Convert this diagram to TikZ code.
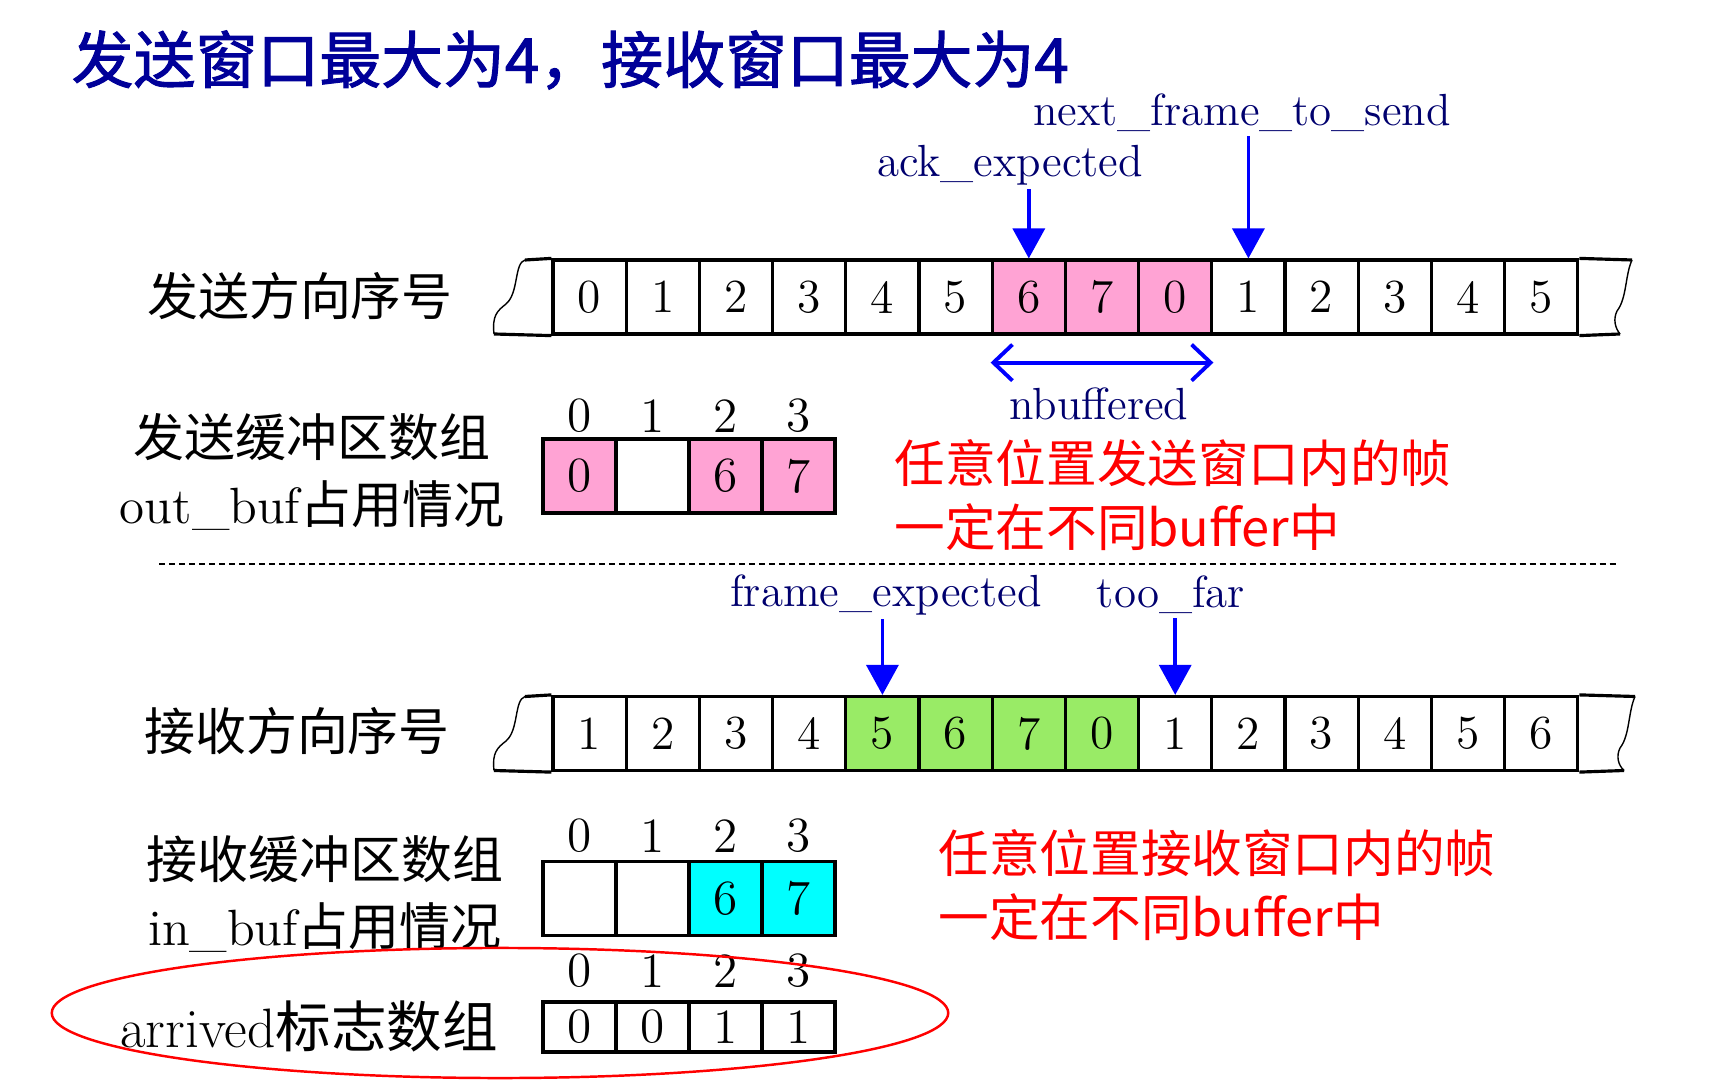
\documentclass[tikz,border=0pt]{standalone}
\usepackage{fontspec}
\newfontfamily\cjk{Noto Sans CJK SC}
\newfontfamily\cjkheavy[FakeBold=1.6]{Noto Sans CJK SC}
\usetikzlibrary{positioning, arrows.meta}

\definecolor{navytext}{RGB}{0,0,110}
\definecolor{titleblue}{RGB}{0,0,153}
\definecolor{winpink}{RGB}{255,163,212}
\definecolor{wingreen}{RGB}{153,235,102}
\definecolor{bufcyan}{RGB}{0,255,255}

\begin{document}
\begin{tikzpicture}[
    x=0.01cm, y=-0.01cm,
    cell/.style={draw, line width=0.9pt, minimum width=0.732cm, minimum height=0.74cm, inner sep=0pt, font=\fontsize{13.5}{15}\selectfont},
    buf/.style={draw, line width=1.1pt, minimum width=0.73cm, minimum height=0.74cm, inner sep=0pt, font=\fontsize{14}{16}\selectfont},
    flag/.style={buf, line width=0.9pt, minimum height=0.5cm},
    idx/.style={inner sep=1pt, font=\fontsize{14}{16}\selectfont},
    var/.style={text=navytext, inner sep=1pt, font=\fontsize{12.8}{15}\selectfont},
    ptr/.style={-{Triangle[length=0.3cm,width=0.32cm]}, blue, line width=1pt},
    span/.style={{Straight Barb[length=0.19cm,width=0.36cm]}-{Straight Barb[length=0.19cm,width=0.36cm]}, blue, line width=1.1pt},
    rowlabel/.style={font=\cjk\fontsize{14.5}{18.8}\selectfont, align=center},
    note/.style={text=red, font=\cjk\fontsize{14.4}{18.2}\selectfont, align=left, anchor=west},
    edge/.style={line width=0.9pt},
    wave/.style={line width=0.4pt}
]
    \useasboundingbox (0,0) rectangle (1722,1080);

    \node[font=\cjkheavy\fontsize{17.6}{20}\selectfont, text=titleblue, anchor=west, inner sep=0pt] (title) at (71,60) {发送窗口最大为4，接收窗口最大为4};

    % sending side: sequence numbers, window 6 7 0
    \node[rowlabel] (sendrow) at (300,296) {发送方向序号};
    \node[cell] (s0) at (589.6,297) {0};
    \node[cell] (s1) at (662.8,297) {1};
    \node[cell] (s2) at (736.0,297) {2};
    \node[cell] (s3) at (809.2,297) {3};
    \node[cell] (s4) at (882.4,297) {4};
    \node[cell] (s5) at (955.6,297) {5};
    \node[cell, fill=winpink] (s6) at (1028.8,297) {6};
    \node[cell, fill=winpink] (s7) at (1102.0,297) {7};
    \node[cell, fill=winpink] (s8) at (1175.2,297) {0};
    \node[cell] (s9) at (1248.4,297) {1};
    \node[cell] (s10) at (1321.6,297) {2};
    \node[cell] (s11) at (1394.8,297) {3};
    \node[cell] (s12) at (1468.0,297) {4};
    \node[cell] (s13) at (1541.2,297) {5};
    \draw[edge] (s0.north west) -- (525,260);
    \draw[wave] (525,260) .. controls (514,263) and (519,293) .. (506,304) .. controls (497,311) and (492,316) .. (494,334);
    \draw[edge] (494,334) -- (s0.south west);
    \draw[edge] (s13.north east) -- (1632,260);
    \draw[wave] (1632,260) .. controls (1625,275) and (1627,298) .. (1617,311) .. controls (1613,319) and (1615,328) .. (1620,334);
    \draw[edge] (1620,334) -- (s13.south east);

    \node[var] (ack) at (1010,165) {ack\_expected};
    \node[var] (next) at (1242,113) {next\_frame\_to\_send};
    \node[var] (nbuf) at (1099,404) {nbuffered};
    \draw[ptr] (ack.south -| s6.north) -- (s6.north);
    \draw[ptr] (next.south -| s9.north) -- (s9.north);
    \draw[span] ([yshift=-0.27cm]s6.south west) -- ([yshift=-0.27cm]s8.south east);

    % out_buf
    \node[rowlabel] (outlabel) at (312,472) {发送缓冲区数组\\{\rmfamily out\_buf}占用情况};
    \node[buf, fill=winpink] (o0) at (579.5,476) {0};
    \node[buf] (o1) at (652.5,476) {};
    \node[buf, fill=winpink] (o2) at (725.5,476) {6};
    \node[buf, fill=winpink] (o3) at (798.5,476) {7};
    \node[idx, above=0pt of o0] (oi0) {0};
    \node[idx, above=0pt of o1] (oi1) {1};
    \node[idx, above=0pt of o2] (oi2) {2};
    \node[idx, above=0pt of o3] (oi3) {3};
    \node[note] (sendnote) at (882,495) {任意位置发送窗口内的帧\\一定在不同buffer中};

    \draw[dash pattern=on 0.06cm off 0.04cm, line width=0.7pt] (159,564) -- (1618,564);

    % receiving side: sequence numbers, window 5 6 7 0
    \node[rowlabel] (recvrow) at (297,731) {接收方向序号};
    \node[cell] (r0) at (589.6,733.5) {1};
    \node[cell] (r1) at (662.8,733.5) {2};
    \node[cell] (r2) at (736.0,733.5) {3};
    \node[cell] (r3) at (809.2,733.5) {4};
    \node[cell, fill=wingreen] (r4) at (882.4,733.5) {5};
    \node[cell, fill=wingreen] (r5) at (955.6,733.5) {6};
    \node[cell, fill=wingreen] (r6) at (1028.8,733.5) {7};
    \node[cell, fill=wingreen] (r7) at (1102.0,733.5) {0};
    \node[cell] (r8) at (1175.2,733.5) {1};
    \node[cell] (r9) at (1248.4,733.5) {2};
    \node[cell] (r10) at (1321.6,733.5) {3};
    \node[cell] (r11) at (1394.8,733.5) {4};
    \node[cell] (r12) at (1468.0,733.5) {5};
    \node[cell] (r13) at (1541.2,733.5) {6};
    \draw[edge] (r0.north west) -- (525,696.5);
    \draw[wave] (525,696.5) .. controls (514,700) and (519,730) .. (506,741) .. controls (497,748) and (492,753) .. (494,770.5);
    \draw[edge] (494,770.5) -- (r0.south west);
    \draw[edge] (r13.north east) -- (1635,696.5);
    \draw[wave] (1635,696.5) .. controls (1628,712) and (1630,735) .. (1620,748) .. controls (1616,756) and (1618,765) .. (1624,770.5);
    \draw[edge] (1624,770.5) -- (r13.south east);

    \node[var] (fexp) at (886,595) {frame\_expected};
    \node[var] (far) at (1171,595) {too\_far};
    \draw[ptr] (fexp.south -| r4.north) -- (r4.north);
    \draw[ptr] (far.south -| r8.north) -- (r8.north);

    % in_buf
    \node[rowlabel] (inlabel) at (325,894) {接收缓冲区数组\\{\rmfamily in\_buf}占用情况};
    \node[buf] (i0) at (579.5,898.5) {};
    \node[buf] (i1) at (652.5,898.5) {};
    \node[buf, fill=bufcyan] (i2) at (725.5,898.5) {6};
    \node[buf, fill=bufcyan] (i3) at (798.5,898.5) {7};
    \node[idx, above=0.03cm of i0] (ii0) {0};
    \node[idx, above=0.03cm of i1] (ii1) {1};
    \node[idx, above=0.03cm of i2] (ii2) {2};
    \node[idx, above=0.03cm of i3] (ii3) {3};
    \node[note] (recvnote) at (926,885) {任意位置接收窗口内的帧\\一定在不同buffer中};

    % arrived flags
    \node[rowlabel, font=\cjk\fontsize{15.8}{18.8}\selectfont] (arrlabel) at (309,1026) {{\rmfamily arrived}标志数组};
    \node[flag] (a0) at (579.5,1027) {0};
    \node[flag] (a1) at (652.5,1027) {0};
    \node[flag] (a2) at (725.5,1027) {1};
    \node[flag] (a3) at (798.5,1027) {1};
    \node[idx, above=0.09cm of a0] (ai0) {0};
    \node[idx, above=0.09cm of a1] (ai1) {1};
    \node[idx, above=0.09cm of a2] (ai2) {2};
    \node[idx, above=0.09cm of a3] (ai3) {3};
    \draw[red, line width=0.7pt] (500,1013) ellipse [x radius=4.48cm, y radius=0.65cm];
\end{tikzpicture}
\end{document}
